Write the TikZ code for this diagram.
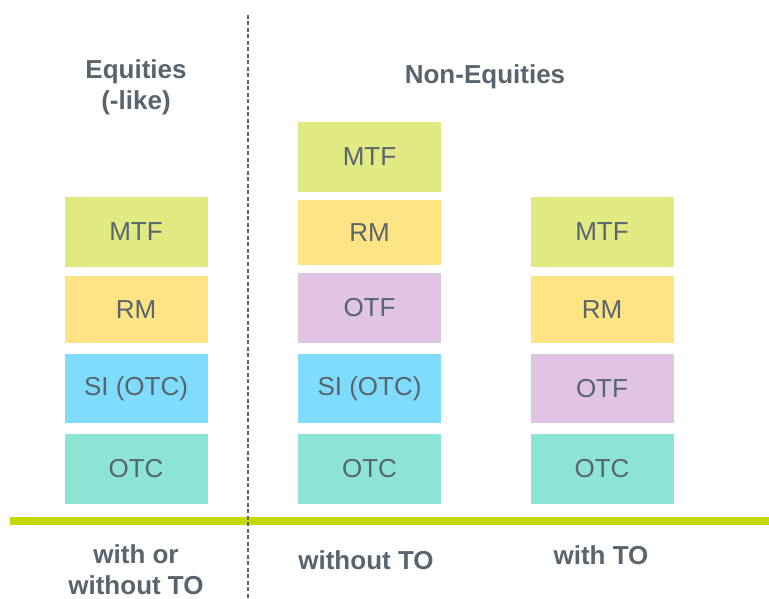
\documentclass[tikz,border=0pt]{standalone}
\usepackage{fontspec}
\setmainfont{Liberation Sans}
\usepackage{tikz}

\definecolor{txtgray}{RGB}{88,100,110}
\definecolor{mtfgreen}{RGB}{225,233,130}
\definecolor{rmyellow}{RGB}{255,228,131}
\definecolor{siblue}{RGB}{128,220,253}
\definecolor{otcteal}{RGB}{140,228,212}
\definecolor{otfpurple}{RGB}{225,196,228}
\definecolor{linegreen}{RGB}{197,217,0}

\begin{document}
\begin{tikzpicture}[x=1pt,y=-1pt,
		venue/.style={rectangle, inner sep=0pt, minimum width=143pt, text=txtgray, font=\fontsize{26}{30}\selectfont},
		head/.style={align=center, text=txtgray, font=\fontsize{26}{31}\selectfont\bfseries}]
		\useasboundingbox (0,0) rectangle (769,599);

		% equities
		\node (eqMTF) [venue, fill=mtfgreen, minimum height=70pt] at (136,232) {MTF};
		\node (eqRM) [venue, fill=rmyellow, minimum height=67pt] at (136,309.5) {RM};
		\node (eqSI) [venue, fill=siblue, minimum height=69pt] at (136,388.5) {SI (OTC)};
		\node (eqOTC) [venue, fill=otcteal, minimum height=70pt] at (136,469) {OTC};

		% non-equities without TO
		\node (noMTF) [venue, fill=mtfgreen, minimum height=70pt] at (369.5,157) {MTF};
		\node (noRM) [venue, fill=rmyellow, minimum height=65pt] at (369.5,232.5) {RM};
		\node (noOTF) [venue, fill=otfpurple, minimum height=70pt] at (369.5,308) {OTF};
		\node (noSI) [venue, fill=siblue, minimum height=69pt] at (369.5,388.5) {SI (OTC)};
		\node (noOTC) [venue, fill=otcteal, minimum height=70pt] at (369.5,469) {OTC};

		% non-equities with TO
		\node (toMTF) [venue, fill=mtfgreen, minimum height=70pt] at (602,232) {MTF};
		\node (toRM) [venue, fill=rmyellow, minimum height=67pt] at (602,309.5) {RM};
		\node (toOTF) [venue, fill=otfpurple, minimum height=69pt] at (602,388.5) {OTF};
		\node (toOTC) [venue, fill=otcteal, minimum height=70pt] at (602,469) {OTC};

		% separators
		\coordinate (sepT) at (247.5,15);
		\coordinate (sepB) at (247.5,599);
		\coordinate (baseL) at (10,521);
		\coordinate (baseR) at (769,521);
		\draw[color=linegreen, line width=8pt] (baseL) -- (baseR);
		\draw[color=txtgray, line width=2pt, dash pattern=on 4pt off 2.5pt] (sepT) -- (sepB);

		% headings
		\node (eqHead) [head] at (136,87) {Equities\\(-like)};
		\node (neHead) [head] at (485,77) {Non-Equities};
		\node (eqFoot) [head] at (136,570) {with or\\without TO};
		\node (noFoot) [head] at (366,560) {without TO};
		\node (toFoot) [head] at (601,555) {with TO};
	\end{tikzpicture}
\end{document}
